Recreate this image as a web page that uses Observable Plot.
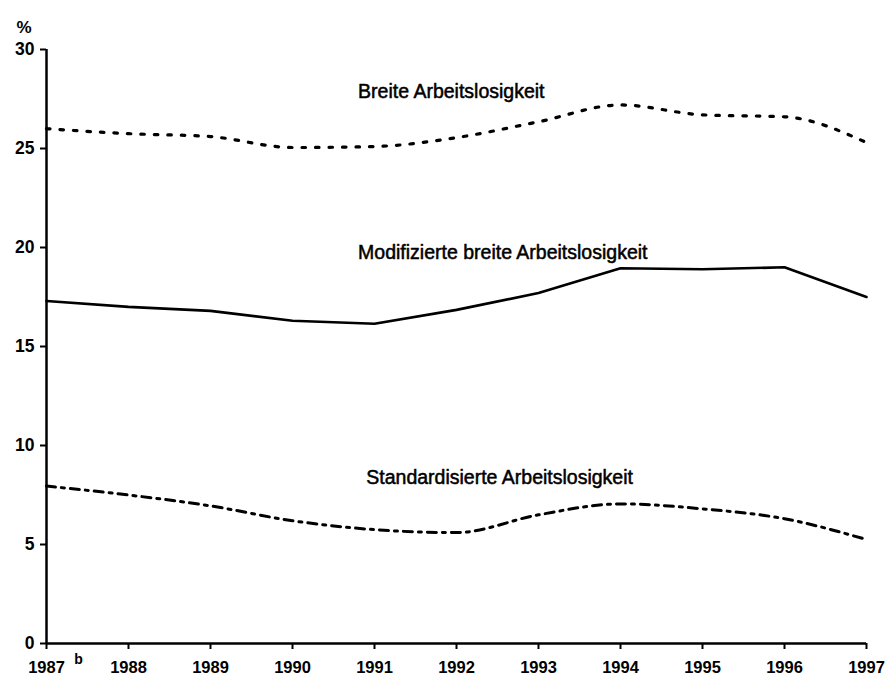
<!DOCTYPE html>
<html>
<head>
<meta charset="utf-8">
<script src="https://cdn.jsdelivr.net/npm/d3@7"></script>
<script src="https://cdn.jsdelivr.net/npm/@observablehq/plot@0.6"></script>
<style>
  html, body { margin: 0; padding: 0; background: #fff; }
  #chart svg { display: block; }
</style>
</head>
<body>
<div id="chart"></div>
<script>
const years = [1987, 1988, 1989, 1990, 1991, 1992, 1993, 1994, 1995, 1996, 1997];
const breite = [26.0, 25.75, 25.6, 25.05, 25.1, 25.55, 26.35, 27.2, 26.7, 26.6, 25.3];
const modifiziert = [17.3, 17.0, 16.8, 16.3, 16.15, 16.85, 17.7, 18.95, 18.9, 19.0, 17.5];
const standard = [7.95, 7.5, 6.95, 6.2, 5.75, 5.6, 6.5, 7.05, 6.8, 6.3, 5.25];
const seriesNames = ["Breite Arbeitslosigkeit", "Modifizierte breite Arbeitslosigkeit", "Standardisierte Arbeitslosigkeit"];
const yTicks = [0, 5, 10, 15, 20, 25, 30];

const toRows = (vals) => years.map((year, i) => ({year, value: vals[i]}));
const labels = [
  {name: seriesNames[0], year: 1990.8, value: 27.85},
  {name: seriesNames[1], year: 1990.8, value: 19.75},
  {name: seriesNames[2], year: 1990.9, value: 8.35}
];

const font = "'Liberation Sans', Arial, sans-serif";

const chart = Plot.plot({
  width: 890,
  height: 679,
  marginLeft: 46,
  marginRight: 24,
  marginTop: 49,
  marginBottom: 36,
  style: {fontFamily: font, fontSize: "15px", color: "#000", background: "#fff"},
  x: {domain: [1987, 1997], label: null},
  y: {domain: [0, 30], label: null},
  marks: [
    Plot.axisX({ticks: years, tickFormat: d => String(d), tickSize: 6, tickPadding: 12, fontWeight: "bold", fontSize: 16.5, strokeWidth: 2, label: null}),
    Plot.axisY({ticks: yTicks, tickSize: 6, tickPadding: 6, fontWeight: "bold", fontSize: 17.5, strokeWidth: 2, label: null}),
    Plot.ruleX([1987], {y1: 0, y2: 30, stroke: "#000", strokeWidth: 2.5}),
    Plot.ruleY([0], {stroke: "#000", strokeWidth: 2.5}),
    Plot.line(toRows(breite), {x: "year", y: "value", stroke: "#000", strokeWidth: 3.2, strokeDasharray: "3.5,10", curve: "monotone-x"}),
    Plot.line(toRows(modifiziert), {x: "year", y: "value", stroke: "#000", strokeWidth: 2.6, curve: "linear"}),
    Plot.line(toRows(standard), {x: "year", y: "value", stroke: "#000", strokeWidth: 3, strokeDasharray: "9,6,3,6", curve: "monotone-x"}),
    Plot.text(labels, {x: "year", y: "value", text: "name", textAnchor: "start", fontSize: 19.5, fill: "#000", stroke: "#000", strokeWidth: 0.5}),
    Plot.text(["%"], {frameAnchor: "top-left", dx: -30, dy: -29, fontSize: 17, fontWeight: "bold", fill: "#000"}),
    Plot.text(["b"], {x: years[0], y: 0, dx: 32, dy: 16, fontSize: 14, fontWeight: "bold", fill: "#000"})
  ]
});
document.getElementById("chart").appendChild(chart);
</script>
</body>
</html>
